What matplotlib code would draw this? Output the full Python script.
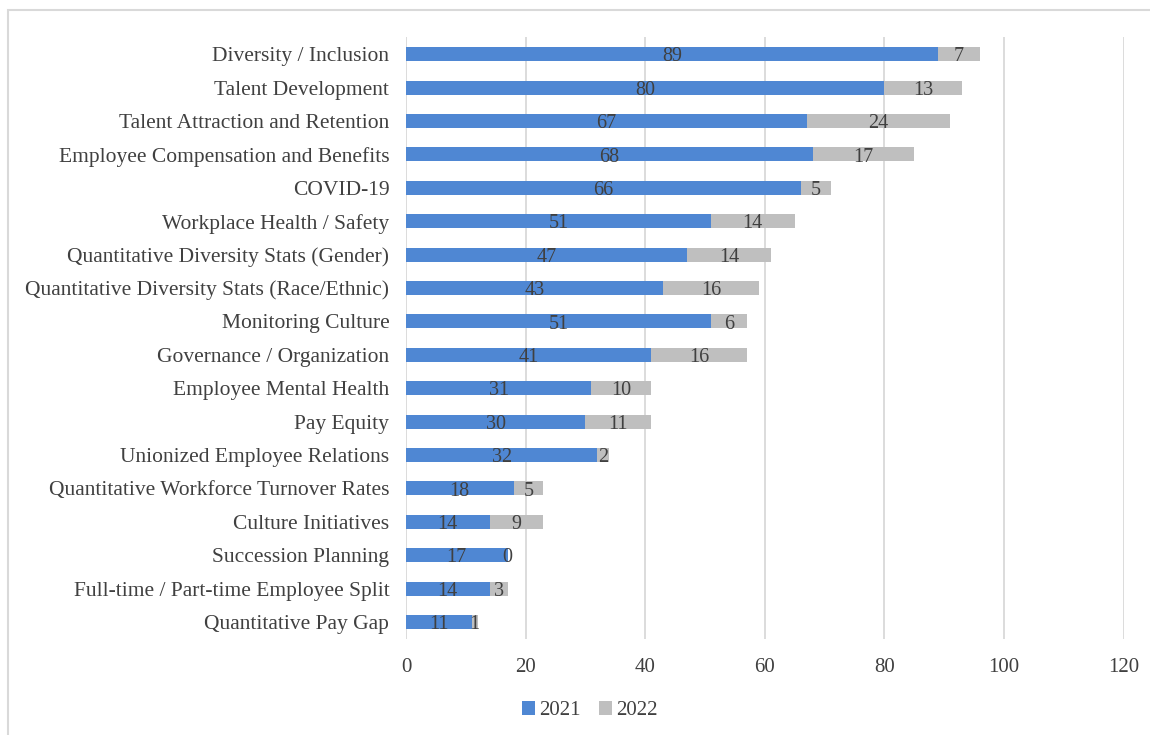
import matplotlib.pyplot as plt
import numpy as np
from matplotlib.patches import Rectangle

categories = ['Diversity / Inclusion', 'Talent Development', 'Talent Attraction and Retention',
              'Employee Compensation and Benefits', 'COVID-19', 'Workplace Health / Safety',
              'Quantitative Diversity Stats (Gender)', 'Quantitative Diversity Stats (Race/Ethnic)',
              'Monitoring Culture', 'Governance / Organization', 'Employee Mental Health',
              'Pay Equity', 'Unionized Employee Relations', 'Quantitative Workforce Turnover Rates',
              'Culture Initiatives', 'Succession Planning', 'Full-time / Part-time Employee Split',
              'Quantitative Pay Gap']
v2021 = [89, 80, 67, 68, 66, 51, 47, 43, 51, 41, 31, 30, 32, 18, 14, 17, 14, 11]
v2022 = [7, 13, 24, 17, 5, 14, 14, 16, 6, 16, 10, 11, 2, 5, 9, 0, 3, 1]
xticks = [0, 20, 40, 60, 80, 100, 120]

plt.rcParams['font.family'] = ['Liberation Serif', 'DejaVu Serif']
text_color = '#404040'

fig = plt.figure(figsize=(11.5, 7.35), dpi=100)
ax = fig.add_axes([0.353, 0.131, 0.624, 0.818])

y = np.arange(len(categories))
b1 = ax.barh(y, v2021, height=0.42, color='#4F87D3', label='2021', zorder=3)
b2 = ax.barh(y, v2022, left=v2021, height=0.42, color='#BFBFBF', label='2022', zorder=3)

# value labels, centred in each segment (sitting a bit low like the original)
for yi, a, b in zip(y, v2021, v2022):
    ax.annotate(str(a), (a / 2, yi), xytext=(0, -2), textcoords='offset points',
                ha='center', va='center', fontsize=14.5, color=text_color, zorder=4)
    ax.annotate(str(b), (a + b / 2, yi), xytext=(0, -2), textcoords='offset points',
                ha='center', va='center', fontsize=14.5, color=text_color, zorder=4)

ax.set_ylim(len(categories) - 0.5, -0.5)
ax.set_xlim(0, 120)
ax.set_yticks(y)
ax.set_yticklabels(categories, fontsize=15.5, color=text_color)
ax.set_xticks(xticks)
ax.set_xticklabels([str(t) for t in xticks], fontsize=15, color=text_color)
ax.tick_params(length=0)
ax.tick_params(axis='y', pad=12)
ax.tick_params(axis='x', pad=14)
ax.grid(axis='x', color='#D9D9D9', linewidth=1.3, zorder=0)
for s in ax.spines.values():
    s.set_visible(False)

fig.legend(handles=[b1, b2], loc='center', bbox_to_anchor=(0.513, 0.033), ncol=2,
           frameon=False, fontsize=15, handlelength=0.6, handleheight=0.6,
           handletextpad=0.2, columnspacing=0.9, labelcolor=text_color)

fig.patches.append(Rectangle((8 / 1150, -0.01), 1.1, 1 - 10 / 735 + 0.01,
                             transform=fig.transFigure, fill=False,
                             edgecolor='#D9D9D9', linewidth=1.5))

fig.savefig('out.png', dpi=100, facecolor='white')
